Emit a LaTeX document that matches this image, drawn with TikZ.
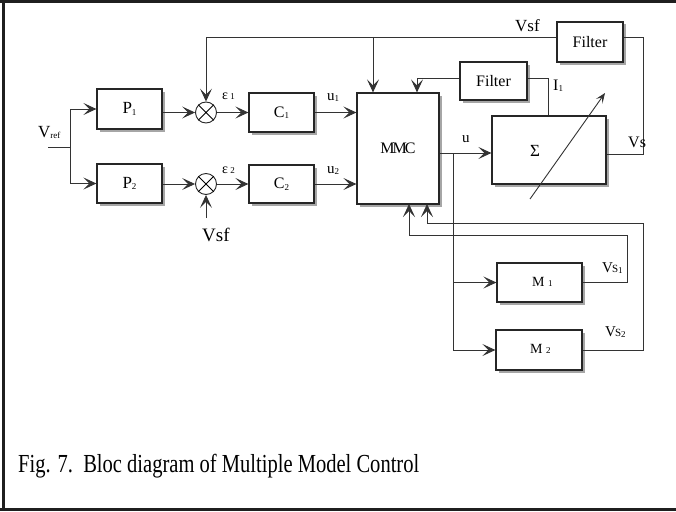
\documentclass[tikz,border=0pt]{standalone}
\usepackage{fontspec}
\setmainfont{Liberation Serif}
\usetikzlibrary{arrows.meta,shadows,calc}
\newcommand{\lowidx}[1]{\raisebox{-1.5pt}{\fontsize{9}{9}\selectfont #1}}
\newcommand{\fs}[1]{\fontsize{#1}{#1}\selectfont}
\begin{document}
\begin{tikzpicture}[x=1pt,y=-1pt,
  font=\fs{15},
  blk/.style={draw=black!85, line width=1.2pt, fill=white, inner sep=0pt,
    drop shadow={shadow xshift=2.5pt, shadow yshift=-2.5pt, fill=black!35, opacity=1}},
  con/.style={draw=black!80, line width=0.9pt},
  arr/.style={con, -{Stealth[length=13pt,width=12pt,inset=6pt]}},
  thinarr/.style={con, -{Stealth[length=10pt,width=8pt,inset=4.5pt]}},
  lbl/.style={inner sep=0pt, anchor=base west},
  sumj/.style={circle, draw=black!85, line width=0.9pt, minimum size=21pt, inner sep=0pt, fill=white}]
\useasboundingbox (0,0) rectangle (676,511);
% frame
\draw[line width=3pt, black!88] (0,1.5) -- (676,1.5);
\draw[line width=3pt, black!88] (3.5,0) -- (3.5,511);
\draw[line width=3pt, black!88] (0,509.5) -- (676,509.5);

% blocks
\node[blk, minimum width=65pt, minimum height=40pt] (P1) at (129.5,109) {\fs{17}P\lowidx{1}};
\node[blk, minimum width=65pt, minimum height=39pt] (P2) at (129.5,183.5) {\fs{17}P\lowidx{2}};
\node[blk, minimum width=65pt, minimum height=39pt] (C1) at (281.5,112.5) {\fs{16}C\lowidx{1}};
\node[blk, minimum width=65pt, minimum height=38pt] (C2) at (281.5,184) {\fs{16}C\lowidx{2}};
\node[blk, minimum width=82pt, minimum height=111pt] (MMC) at (398,148.5) {\fs{16}M\kern-2ptM\kern-2ptC};
\node[blk, minimum width=66pt, minimum height=40pt] (F1) at (590,42) {\fs{16}Filter};
\node[blk, minimum width=67pt, minimum height=38pt] (F2) at (493.5,81) {\fs{16}Filter};
\node[blk, minimum width=114pt, minimum height=68pt] (Sig) at (549,150) {};
\node[blk, minimum width=85pt, minimum height=39pt] (M1) at (539.5,282.5) {};
\node[blk, minimum width=86pt, minimum height=40pt] (M2) at (539,350) {};

% summing junctions
\node[sumj] (s1) at (206,112.5) {};
\node[sumj] (s2) at (206,184) {};
\draw[line width=0.8pt] (s1.north west) -- (s1.south east) (s1.north east) -- (s1.south west);
\draw[line width=0.8pt] (s2.north west) -- (s2.south east) (s2.north east) -- (s2.south west);

% coordinates
\coordinate (vin) at (48,147);
\coordinate (br) at (70,147);
\coordinate (tb) at (373,37);
\coordinate (f2l) at (417,78);
\coordinate (f2r) at (548,78);
\coordinate (vsr) at (643,154);
\coordinate (ub) at (453,153);
\coordinate (ub1) at (453,282.5);
\coordinate (ub2) at (453,350);
\coordinate (vsfin) at (206,218);
\coordinate (dg1) at (530,199);
\coordinate (dg2) at (605,93);

% connectors
\draw[con] (vin) -- (br);
\draw[arr] (br) |- (P1.west);
\draw[arr] (br) |- (P2.west);
\draw[arr] (P1.east |- s1) -- (s1);
\draw[arr] (P2.east |- s2) -- (s2);
\draw[arr] (s1) -- (C1);
\draw[arr] (s2) -- (C2.west |- s2);
\draw[arr] (C1.east) -- (MMC.west |- C1.east);
\draw[arr] (C2.east) -- (MMC.west |- C2.east);
\draw[arr] (vsfin) -- (s2);
\draw[arr] (F1.west |- tb) -| (s1.north);
\draw[arr] (tb) -- (tb |- MMC.north);
\draw[arr] (F2.west |- f2l) -| (f2l |- MMC.north);
\draw[con] (F2.east |- f2r) -| (f2r |- Sig.north);
\draw[con] (Sig.east |- vsr) -- (vsr) |- (F1.east |- tb);
\draw[arr] (MMC.east |- ub) -- (Sig.west |- ub);
\draw[con] (ub) -- (ub2);
\draw[arr] (ub1) -- (M1.west |- ub1);
\draw[arr] (ub2) -- (M2.west |- ub2);
\draw[arr] (M1.east) -| (627,235) -| (409,204);
\draw[arr] (M2.east) -| (643,223) -| (427,204);
\draw[thinarr] (dg1) -- (dg2);

% labels
\node[lbl] (lvref) at (38,137) {\fs{17}V\lowidx{ref}};
\node[lbl] (le1) at (222,99) {\fs{14}ε\,\fs{9}1};
\node[lbl] (le2) at (222,173) {\fs{14}ε\,\fs{9}2};
\node[lbl] (lu1) at (327,100) {u\lowidx{1}};
\node[lbl] (lu2) at (327,173) {u\lowidx{2}};
\node[lbl] (lu) at (462,142) {u};
\node[lbl] (lvsft) at (515,31) {\fs{17}Vsf};
\node[lbl] (lvsfb) at (202,241) {\fs{19}Vsf};
\node[lbl] (li1) at (553,90) {\fs{16}I\lowidx{1}};
\node[lbl] (lsig) at (530,156) {\fs{17}Σ};
\node[lbl] (lvs) at (628,147) {\fs{16}Vs};
\node[lbl] (lvs1) at (602,272) {\fs{15}V\kern-1pt\fs{11}S\lowidx{1}};
\node[lbl] (lvs2) at (605,336) {\fs{15}V\kern-1pt\fs{11}S\lowidx{2}};
\node[lbl] (lm1) at (532,286) {\fs{14}M\ \fs{9}1};
\node[lbl] (lm2) at (530,353) {\fs{14}M\ \fs{9}2};

% caption
\node[lbl] (cap) at (18,472) {\scalebox{0.79}[1]{\fs{26}Fig. 7.\ \ Bloc diagram of Multiple Model Control}};
\end{tikzpicture}
\end{document}
